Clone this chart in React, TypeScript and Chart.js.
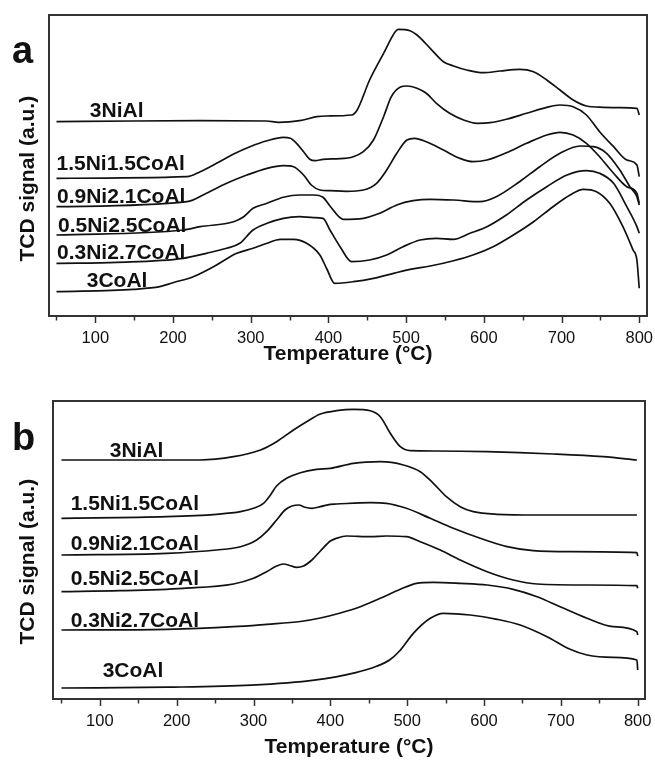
import React, { useEffect, useRef } from "react";
import { Chart, registerables } from "chart.js";

Chart.register(...registerables);

const FONT = '"Liberation Sans", Arial, Helvetica, sans-serif';
const INK = "#111111";

const TICK_VALUES = [50, 100, 150, 200, 250, 300, 350, 400, 450, 500, 550, 600, 650, 700, 750, 800];
const X_TITLE = "Temperature (°C)";
const Y_TITLE = "TCD signal (a.u.)";
const SERIES_NAMES = ["3NiAl", "1.5Ni1.5CoAl", "0.9Ni2.1CoAl", "0.5Ni2.5CoAl", "0.3Ni2.7CoAl", "3CoAl"];

// ---------- Panel a ----------
const A_NI3_T = [50, 149, 235, 320, 336, 363, 385, 398, 430, 437, 453, 471, 486, 490, 505, 514, 531, 548, 561, 578, 599, 621, 646, 664, 681, 698, 715, 732, 754, 775, 797, 800];
const A_NI3_V = [194.3, 195, 195.3, 195, 193.7, 195.3, 199.3, 200, 201, 206, 236, 262.7, 284.3, 286.7, 285.3, 281, 267.7, 254.3, 250, 246, 243.3, 245, 246.7, 244.3, 236, 226, 216, 210, 208.7, 208.3, 207.7, 201];

const A_NI15_T = [50, 218, 235, 256, 278, 299, 321, 342, 351, 359, 368, 376, 383, 393, 415, 432, 445, 458, 471, 481, 492, 501, 514, 526, 539, 556, 574, 591, 608, 629, 655, 681, 698, 715, 732, 749, 767, 784, 797, 800];
const A_NI15_V = [137.7, 139.3, 144.3, 152.7, 162, 169.3, 175.3, 178.7, 177.7, 172.7, 164.3, 156.7, 155.3, 156.7, 157.3, 159.3, 164.3, 176, 199.3, 219.3, 228.7, 230, 227.7, 222.7, 212.7, 202.7, 196, 192.7, 193.3, 196.7, 202.7, 208.7, 211, 209.3, 201, 184.3, 169.3, 156, 151, 139.3];

const A_NI09_T = [50, 218, 243, 269, 295, 321, 342, 355, 368, 378, 389, 402, 423, 445, 462, 475, 488, 501, 511, 526, 548, 569, 586, 604, 629, 655, 681, 698, 715, 732, 749, 767, 784, 797, 800];
const A_NI09_V = [109.3, 114.3, 122.7, 132.7, 141, 147.7, 150.3, 149.3, 141, 131, 126, 125.3, 124.7, 126, 132.7, 146, 162.7, 176, 177.7, 174.3, 166, 157.7, 154.3, 156, 163.3, 172.7, 181, 183.7, 181, 172.7, 159.3, 142.7, 129.3, 122.7, 112.7];

const A_NI05_T = [50, 213, 235, 278, 291, 303, 321, 342, 363, 381, 393, 402, 419, 445, 466, 488, 509, 531, 561, 595, 616, 646, 672, 698, 724, 741, 758, 775, 788, 797, 800];
const A_NI05_V = [81, 86, 89.3, 94.3, 99.3, 107.7, 112.7, 118.7, 121, 121, 118.7, 110, 96.7, 97.7, 102.7, 111, 115.3, 116.7, 116, 114.3, 119.3, 134.3, 149.3, 162.7, 170, 169.3, 162.7, 146, 129.3, 119.3, 111];

const A_NI03_T = [50, 128, 213, 243, 269, 286, 303, 321, 342, 363, 381, 393, 402, 415, 430, 453, 475, 496, 518, 539, 561, 582, 604, 629, 655, 681, 707, 732, 749, 767, 784, 797, 800];
const A_NI03_V = [52.7, 53.7, 57.7, 62.7, 67.7, 72.7, 86, 92.7, 97.7, 99.3, 98.3, 97.7, 86, 69.3, 54.3, 56, 61, 69.3, 76, 77.7, 76.7, 82.7, 89.3, 101, 116, 129.3, 141, 145.3, 142.7, 132.7, 109.3, 89.3, 82.7];

const A_CO3_T = [50, 149, 183, 200, 226, 256, 282, 303, 321, 338, 355, 372, 389, 398, 408, 432, 458, 484, 505, 531, 561, 586, 612, 638, 664, 689, 711, 728, 745, 762, 779, 792, 797, 800];
const A_CO3_V = [24.3, 26.7, 29.3, 33.3, 39.3, 51, 62.7, 67.7, 72.7, 76.7, 76.7, 72.7, 61, 47, 32.7, 34.3, 37.7, 42.7, 46.7, 50, 55.3, 61, 69.3, 81, 94.3, 109.3, 121, 126.7, 124.3, 112.7, 89.3, 66, 56, 27.7];

// label anchors (temperature, signal) for panel a
const A_LABEL_T = [93, 50, 50.7, 52, 50.7, 89];
const A_LABEL_V = [199.3, 146, 113, 84.3, 57, 29];

// ---------- Panel b ----------
const B_NI3_T = [50, 230, 274, 309, 330, 352, 369, 387, 408, 430, 452, 465, 478, 491, 504, 538, 604, 690, 755, 799];
const B_NI3_V = [239, 239, 242.3, 249, 257.3, 269, 277.3, 285, 288.3, 289.7, 288.3, 282.3, 265.7, 252.3, 248.3, 248, 247.3, 245, 242.3, 239];

const B_NI15_T = [50, 187, 252, 283, 300, 313, 322, 330, 343, 361, 382, 400, 430, 465, 495, 517, 534, 551, 569, 586, 617, 669, 734, 799];
const B_NI15_V = [180.7, 182.3, 184.7, 187.3, 190.7, 195.7, 204, 213, 220.7, 226.3, 229.7, 230.7, 235.7, 237.3, 234, 227.3, 215.7, 202.3, 192.3, 187.3, 184.7, 184, 184, 184];

const B_NI09_T = [50, 187, 252, 283, 304, 317, 330, 341, 350, 359, 367, 376, 387, 400, 408, 452, 473, 499, 530, 560, 595, 630, 664, 712, 799, 800];
const B_NI09_V = [144, 145.7, 149, 152.3, 159, 167.3, 179, 189, 193, 194, 191.7, 190.7, 192.3, 194.7, 195, 196.3, 195.7, 190.7, 180.7, 170.7, 160.7, 152.3, 148.3, 147.3, 146.3, 143];

const B_NI05_T = [50, 126, 209, 274, 300, 317, 330, 339, 348, 356, 365, 376, 387, 400, 408, 421, 452, 473, 499, 517, 543, 569, 604, 638, 669, 734, 799, 800];
const B_NI05_V = [107.3, 108.3, 110.7, 115, 120.7, 127.3, 133, 135, 133.3, 131.7, 133, 139, 148, 158, 160.7, 163, 162.3, 163, 162.3, 157.3, 149, 139, 127.3, 119, 115, 114, 113.3, 110.7];

const B_NI03_T = [50, 187, 274, 317, 361, 387, 413, 439, 465, 491, 512, 534, 569, 604, 638, 669, 699, 734, 768, 799, 800];
const B_NI03_V = [69, 69.7, 72.3, 74.7, 77.5, 81, 86, 92.3, 100.7, 109.7, 115.7, 116.7, 115.7, 114, 109.7, 102.3, 92.3, 80.7, 72.3, 67.3, 64];

const B_CO3_T = [50, 188, 297, 379, 433, 460, 477, 490, 508, 530, 547, 582, 617, 647, 682, 712, 734, 768, 799, 800];
const B_CO3_V = [11, 11.8, 13.9, 18.9, 26.4, 32.7, 39, 48, 65.7, 80.7, 85.7, 84, 79.7, 74, 62.3, 49.7, 44, 41.7, 39, 29];

// label anchors (temperature, signal) for panel b
const B_LABEL_T = [112.8, 62, 62, 62, 62, 103.6];
const B_LABEL_V = [241.7, 189, 149, 114, 72, 22];

type Series = { name: string; t: number[]; v: number[] };
type PanelSpec = {
  letter: string;
  top: number;
  height: number;
  xMin: number;
  xMax: number;
  yMax: number;
  padding: { left: number; right: number; top: number; bottom: number };
  xAxisHeight: number;
  xTitlePad: number;
  yTitleX: number;
  yTitleY: number;
  letterX: number;
  letterY: number;
  series: Series[];
  labelT: number[];
  labelV: number[];
};

const mk = (ts: number[][], vs: number[][]): Series[] =>
  SERIES_NAMES.map((name, i) => ({ name, t: ts[i], v: vs[i] }));

const PANEL_A: PanelSpec = {
  letter: "a",
  top: 0,
  height: 380,
  xMin: 40.4,
  xMax: 810,
  yMax: 301,
  padding: { left: 49, right: 8, top: 15, bottom: 0 },
  xAxisHeight: 64,
  xTitlePad: 13.5,
  yTitleX: 33.5,
  yTitleY: 178.7,
  letterX: 12,
  letterY: 63,
  series: mk(
    [A_NI3_T, A_NI15_T, A_NI09_T, A_NI05_T, A_NI03_T, A_CO3_T],
    [A_NI3_V, A_NI15_V, A_NI09_V, A_NI05_V, A_NI03_V, A_CO3_V]
  ),
  labelT: A_LABEL_T,
  labelV: A_LABEL_V,
};

const PANEL_B: PanelSpec = {
  letter: "b",
  top: 380,
  height: 381,
  xMin: 39,
  xMax: 809.5,
  yMax: 298,
  padding: { left: 53, right: 10, top: 21, bottom: 0 },
  xAxisHeight: 62,
  xTitlePad: 1,
  yTitleX: 34,
  yTitleY: 181.7,
  letterX: 12,
  letterY: 70,
  series: mk(
    [B_NI3_T, B_NI15_T, B_NI09_T, B_NI05_T, B_NI03_T, B_CO3_T],
    [B_NI3_V, B_NI15_V, B_NI09_V, B_NI05_V, B_NI03_V, B_CO3_V]
  ),
  labelT: B_LABEL_T,
  labelV: B_LABEL_V,
};

function Panel({ spec }: { spec: PanelSpec }) {
  const ref = useRef<HTMLCanvasElement>(null);

  useEffect(() => {
    const canvas = ref.current;
    if (!canvas) return;

    const decor = {
      id: "decor",
      afterDraw(chart: any) {
        const { ctx, chartArea: ca } = chart;
        const x = chart.scales.x;
        const y = chart.scales.y;
        ctx.save();
        // frame
        ctx.strokeStyle = "#333333";
        ctx.lineWidth = 2;
        ctx.strokeRect(ca.left, ca.top, ca.right - ca.left, ca.bottom - ca.top);
        // tick marks
        ctx.lineWidth = 1.5;
        TICK_VALUES.forEach((v) => {
          const px = Math.round(x.getPixelForValue(v)) + 0.5;
          const len = v % 100 === 0 ? 6 : 3.5;
          ctx.beginPath();
          ctx.moveTo(px, ca.bottom + 1);
          ctx.lineTo(px, ca.bottom + 1 + len);
          ctx.stroke();
        });
        // series labels
        ctx.fillStyle = INK;
        ctx.font = `bold 21px ${FONT}`;
        ctx.textAlign = "left";
        ctx.textBaseline = "alphabetic";
        SERIES_NAMES.forEach((name, i) => {
          ctx.fillText(name, x.getPixelForValue(spec.labelT[i]), y.getPixelForValue(spec.labelV[i]));
        });
        // panel letter
        ctx.font = `bold 38px ${FONT}`;
        ctx.fillText(spec.letter, spec.letterX, spec.letterY);
        // y title
        ctx.translate(spec.yTitleX, spec.yTitleY);
        ctx.rotate(-Math.PI / 2);
        ctx.textAlign = "center";
        ctx.font = `bold 21px ${FONT}`;
        ctx.fillText(Y_TITLE, 0, 0);
        ctx.restore();
      },
    };

    const chart = new Chart(canvas, {
      type: "line",
      data: {
        datasets: spec.series.map((s) => ({
          label: s.name,
          data: s.t.map((t, i) => ({ x: t, y: s.v[i] })),
          borderColor: INK,
          borderWidth: 1.7,
          pointRadius: 0,
          fill: false,
          cubicInterpolationMode: "monotone" as const,
        })),
      },
      options: {
        animation: false,
        responsive: false,
        events: [],
        layout: { padding: spec.padding },
        plugins: { legend: { display: false }, tooltip: { enabled: false } },
        scales: {
          x: {
            type: "linear",
            min: spec.xMin,
            max: spec.xMax,
            afterBuildTicks: (s: any) => {
              s.ticks = TICK_VALUES.map((v) => ({ value: v }));
            },
            afterFit: (s: any) => {
              s.height = spec.xAxisHeight;
            },
            grid: { display: false, drawTicks: true, tickLength: 12 },
            border: { display: false },
            ticks: {
              autoSkip: false,
              maxRotation: 0,
              padding: 1,
              color: INK,
              font: { family: FONT, size: 16.5 },
              callback: (v: any) => (Number(v) % 100 === 0 ? String(v) : ""),
            },
            title: {
              display: true,
              text: X_TITLE,
              color: INK,
              font: { family: FONT, size: 21, weight: "bold" },
              padding: { top: 0, bottom: spec.xTitlePad },
            },
          },
          y: { display: false, min: 0, max: spec.yMax },
        },
      },
      plugins: [decor],
    } as any);

    return () => chart.destroy();
  }, [spec]);

  return (
    <canvas
      ref={ref}
      width={655}
      height={spec.height}
      style={{ position: "absolute", left: 0, top: spec.top, display: "block" }}
    />
  );
}

export default function App() {
  return (
    <div style={{ position: "absolute", left: 0, top: 0, width: 655, height: 761, background: "#ffffff" }}>
      <Panel spec={PANEL_A} />
      <Panel spec={PANEL_B} />
    </div>
  );
}
